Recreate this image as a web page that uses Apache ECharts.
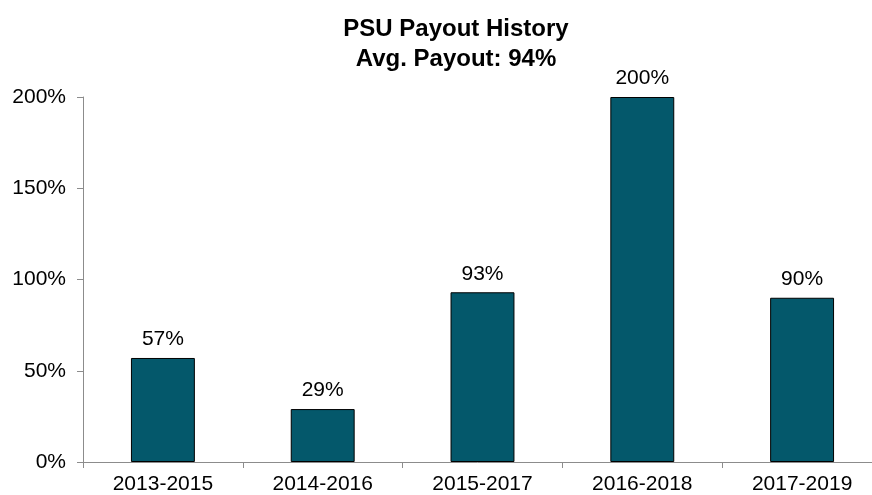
<!DOCTYPE html>
<html>
<head>
<meta charset="utf-8">
<script src="https://cdn.jsdelivr.net/npm/echarts@6/dist/echarts.min.js"></script>
<style>
  html, body { margin: 0; padding: 0; background: #fff; }
  #chart { width: 872px; height: 495px; }
</style>
</head>
<body>
<div id="chart"></div>
<script>
const categories = ["2013-2015", "2014-2016", "2015-2017", "2016-2018", "2017-2019"];
const payout = [57, 29, 93, 200, 90];
const yTicks = [0, 50, 100, 150, 200];

const chart = echarts.init(document.getElementById("chart"));
const option = {
  animation: false,
  title: {
    text: "PSU Payout History\nAvg. Payout: 94%",
    left: 451,
    textAlign: "center",
    top: 9,
    textStyle: {
      fontFamily: "Liberation Sans",
      fontSize: 24,
      fontWeight: "bold",
      color: "#000",
      lineHeight: 30,
    },
  },
  grid: {
    left: 83,
    width: 799,
    top: 97,
    bottom: 33,
    containLabel: false,
    outerBoundsMode: "none",
  },
  xAxis: {
    type: "category",
    data: categories,
    axisLine: { lineStyle: { color: "#8c8c8c", width: 1 } },
    axisTick: { show: true, length: 6, lineStyle: { color: "#8c8c8c" } },
    axisLabel: {
      margin: 12,
      color: "#000",
      fontFamily: "Liberation Sans",
      fontSize: 21,
    },
  },
  yAxis: {
    type: "value",
    min: yTicks[0],
    max: yTicks[yTicks.length - 1],
    interval: 50,
    splitLine: { show: false },
    axisLine: { show: true, lineStyle: { color: "#8c8c8c", width: 1 } },
    axisTick: { show: true, length: 6, lineStyle: { color: "#8c8c8c" } },
    axisLabel: {
      margin: 17,
      color: "#000",
      fontFamily: "Liberation Sans",
      fontSize: 21,
      formatter: "{value}%",
    },
  },
  series: [
    {
      type: "bar",
      data: payout,
      barWidth: "40%",
      itemStyle: { color: "#04586b", borderColor: "#000", borderWidth: 1 },
      label: {
        show: true,
        position: "top",
        distance: 8,
        color: "#000",
        fontFamily: "Liberation Sans",
        fontSize: 21,
        formatter: "{c}%",
      },
    },
  ],
};
chart.setOption(option);
</script>
</body>
</html>
